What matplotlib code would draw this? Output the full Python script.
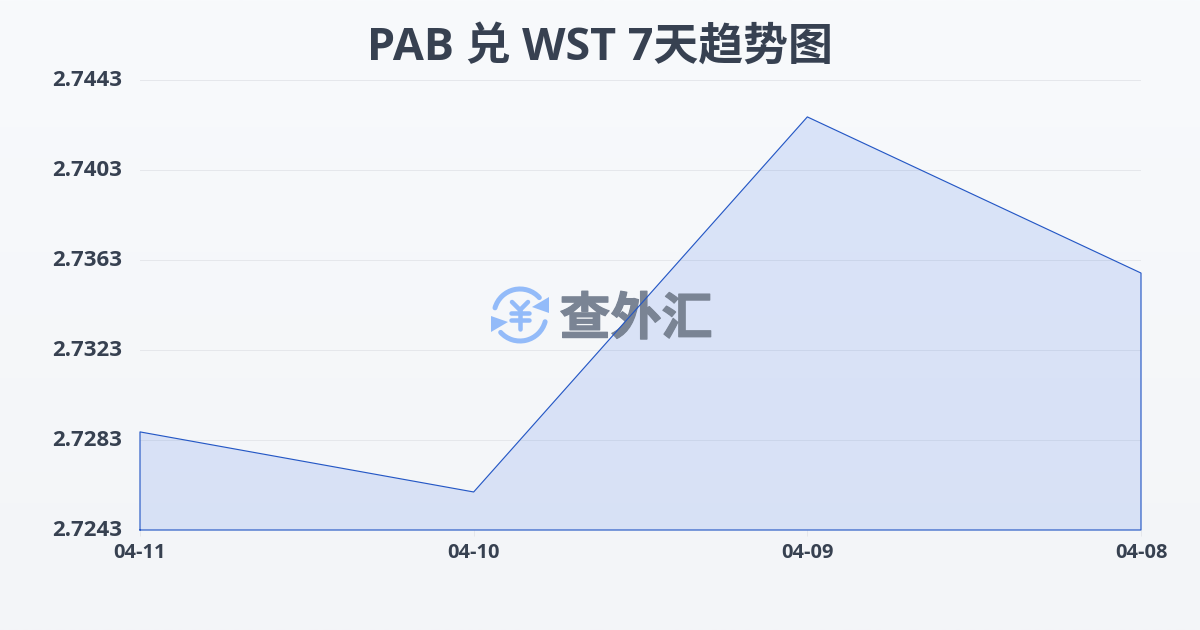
"""
PAB / WST 7 day trend
"""

import numpy as np
from matplotlib import pyplot as plt
from matplotlib import patheffects
from matplotlib.patches import Arc, Polygon
from matplotlib.transforms import ScaledTranslation

plt.rcParams['font.family'] = ['Open Sans', 'Noto Sans CJK SC', 'DejaVu Sans']

dates = ['04-11', '04-10', '04-09', '04-08']
rates = [2.72866, 2.72599, 2.74266, 2.73572]
y_ticks = [2.7243, 2.7283, 2.7323, 2.7363, 2.7403, 2.7443]
title = 'PAB 兑 WST 7天趋势图'
watermark = '查外汇'

W, H = 1200, 630
DARK = '#374151'
LINE = '#2457c5'
LOGO = '#93bbf9'
CJK = ['Noto Sans CJK SC', 'DejaVu Sans']


def px(n):
    # css pixels to points at dpi 100
    return n * 0.72


def draw_background(fig):
    bg = fig.add_axes([0, 0, 1, 1], zorder=0)
    top = np.array([248, 250, 252]) / 255
    bottom = np.array([243, 245, 248]) / 255
    t = np.linspace(0, 1, 256)[:, None, None]
    bg.imshow(top + (bottom - top) * t, aspect='auto', extent=[0, 1, 0, 1])
    bg.axis('off')


def draw_logo(fig, ax):
    # pixel coordinates come from a hidden axes, marks go on ax so they sit between fill and line
    ov = fig.add_axes([0, 0, 1, 1], zorder=1)
    ov.set_xlim(0, W)
    ov.set_ylim(H, 0)
    ov.axis('off')
    tr = ov.transData
    cx, cy, r = 520, 315, 26
    z = 2.5

    for th1, th2 in [(196, 318), (15, 138)]:
        ax.add_patch(Arc((cx, cy), 2 * r, 2 * r, theta1=th1, theta2=th2, color=LOGO, lw=px(5),
                         capstyle='round', transform=tr, clip_on=False, zorder=z))
    ax.add_patch(Polygon([[549, 297], [549, 313], [532, 307]], color=LOGO, lw=0, transform=tr, clip_on=False, zorder=z))
    ax.add_patch(Polygon([[491, 316], [508, 322], [491, 332]], color=LOGO, lw=0, transform=tr, clip_on=False, zorder=z))
    # yen sign built from strokes, heavier and wider than the font glyph
    strokes = [([512, 520, 528], [302, 310, 302]), ([520, 520], [310, 329]), ([511, 529], [313, 313]), ([511, 529], [320, 320])]
    for sx, sy in strokes:
        ax.plot(sx, sy, color=LOGO, lw=px(4.5), solid_capstyle='round', solid_joinstyle='round',
                transform=tr, clip_on=False, zorder=z)
    wm = ax.text(636, 320, watermark, fontsize=px(51), fontweight='bold', family=CJK, color='#7a8494',
                 ha='center', va='center', transform=tr, zorder=z)
    wm.set_path_effects([patheffects.withStroke(linewidth=px(1.2), foreground='#7a8494')])


def main():
    fig = plt.figure(figsize=(12, 6.3), dpi=100)
    draw_background(fig)

    ax = fig.add_axes([140 / W, 1 - 530 / H, (1141 - 140) / W, 450 / H], zorder=2)
    ax.patch.set_alpha(0)

    x = np.arange(len(dates))
    ax.fill_between(x, rates, y_ticks[0], facecolor='#2f68e8', alpha=0.14, lw=0, zorder=2)
    # outline goes all the way round the area
    ax.plot(np.r_[x[0], x, x[-1], x[0]], np.r_[y_ticks[0], rates, y_ticks[0], y_ticks[0]],
            color=LINE, lw=px(1.15), zorder=3, clip_on=False)

    ax.set_xlim(x[0], x[-1])
    ax.set_ylim(y_ticks[0], y_ticks[-1])
    ax.set_xticks(x, dates)
    ax.set_yticks(y_ticks, [f'{v:.4f}' for v in y_ticks])
    ax.grid(axis='y', color='#e5e7eb', lw=px(1), zorder=1)
    ax.set_axisbelow(True)
    for s in ax.spines.values():
        s.set_visible(False)

    ax.tick_params(axis='x', length=px(6), width=px(1), color='#e5e7eb', pad=px(7),
                   labelsize=px(20), labelcolor=DARK)
    ax.tick_params(axis='y', length=0, pad=px(18), labelsize=px(22.3), labelcolor=DARK)
    for lab in ax.get_xticklabels() + ax.get_yticklabels():
        lab.set_fontweight('bold')
    # y labels sit a little above their grid lines
    up = ScaledTranslation(0, 2 / 100, fig.dpi_scale_trans)
    for lab in ax.get_yticklabels():
        lab.set_transform(lab.get_transform() + up)

    draw_logo(fig, ax)

    fig.text(0.5, 1 - 48 / H, title, fontsize=px(44.9), fontweight='bold', color=DARK, ha='center', va='center', zorder=5)

    fig.savefig('out.png', dpi=100)


if __name__ == '__main__':
    main()
